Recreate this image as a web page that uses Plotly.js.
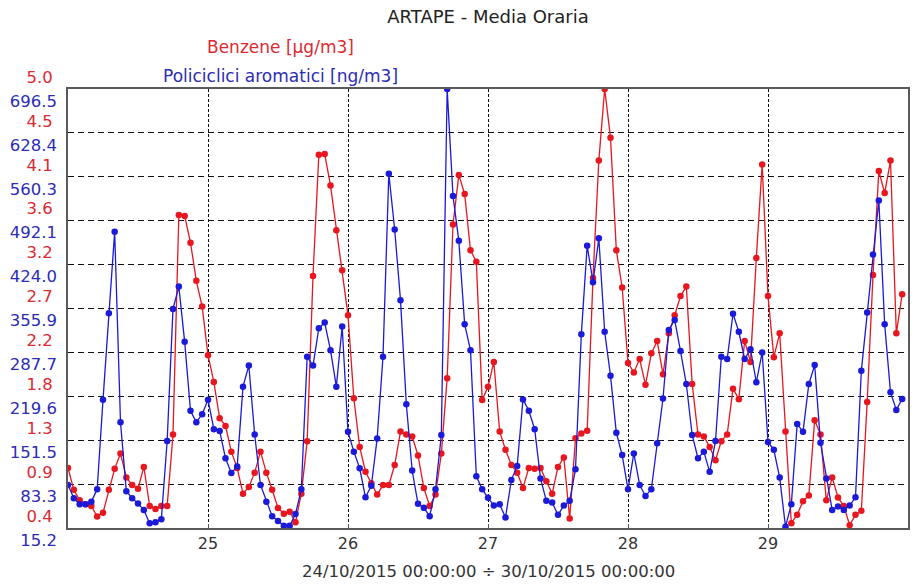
<!DOCTYPE html>
<html>
<head>
<meta charset="utf-8">
<script src="https://cdn.plot.ly/plotly-3.0.1.min.js"></script>
<style>
  html, body { margin: 0; padding: 0; background: #fff; }
  #chart { width: 922px; height: 585px; }
</style>
</head>
<body>
<div id="chart"></div>
<script>
// Hourly averages, 24/10/2015 00:00 -> 29/10/2015 23:00 (one value per hour)
const startDay = [2015, 10, 24];

// Benzene [µg/m3]
const benzene = [
  1.03, 0.80, 0.69, 0.65, 0.63, 0.52, 0.56, 0.80, 1.02, 1.18, 0.93, 0.85, 0.81, 1.04, 0.63, 0.60, 0.63, 0.63, 1.38, 3.68, 3.67, 3.39, 2.99, 2.72,
  2.21, 1.93, 1.55, 1.47, 1.20, 1.03, 0.76, 0.83, 0.98, 1.20, 0.98, 0.80, 0.61, 0.55, 0.57, 0.46, 0.76, 1.31, 3.04, 4.31, 4.32, 3.99, 3.52, 3.10,
  2.63, 1.76, 1.25, 0.99, 0.87, 0.75, 0.85, 0.85, 1.06, 1.41, 1.38, 1.36, 1.16, 0.82, 0.63, 0.75, 1.18, 1.97, 3.58, 4.10, 3.90, 3.31, 3.19, 1.74,
  1.88, 2.14, 1.41, 1.22, 1.06, 0.98, 0.82, 1.03, 1.02, 1.03, 0.89, 0.76, 1.04, 1.14, 0.50, 1.34, 1.39, 1.42, 3.02, 4.25, 5.00, 4.49, 3.31, 2.92,
  2.13, 2.03, 2.17, 1.90, 2.23, 2.36, 2.01, 2.44, 2.63, 2.83, 2.93, 1.91, 1.38, 1.36, 1.25, 1.11, 1.31, 1.38, 1.86, 1.75, 2.36, 2.14, 3.23, 4.21,
  2.83, 2.19, 2.44, 1.41, 0.45, 0.54, 0.68, 0.74, 1.53, 1.38, 0.69, 0.93, 0.72, 0.63, 0.43, 0.54, 0.58, 1.72, 3.05, 4.14, 3.91, 4.25, 2.44, 2.85
];

// Policiclici aromatici [ng/m3]
const policiclici = [
  82.0, 61.5, 52.0, 52.0, 56.1, 75.2, 214.1, 348.4, 475.1, 179.4, 72.4, 61.5, 53.4, 43.1, 22.7, 24.1, 28.8, 150.1, 355.2, 389.9, 304.1, 197.1, 179.4, 191.7,
  214.1, 168.5, 165.8, 123.5, 100.4, 110.6, 234.6, 267.3, 160.3, 82.0, 56.1, 33.6, 26.1, 18.6, 18.6, 37.0, 75.2, 280.9, 267.3, 325.2, 334.1, 291.1, 234.6, 327.9,
  164.4, 133.7, 107.9, 62.9, 80.6, 154.2, 280.9, 565.0, 478.5, 368.8, 207.3, 104.4, 52.7, 46.5, 33.6, 75.2, 159.6, 696.5, 530.3, 460.8, 331.3, 291.1, 95.6, 75.2,
  62.2, 50.0, 52.0, 31.6, 89.5, 111.3, 214.8, 197.1, 168.5, 92.2, 57.4, 54.7, 35.6, 50.0, 57.4, 106.5, 315.7, 453.3, 396.7, 464.9, 319.7, 251.6, 163.0, 128.3,
  75.2, 131.0, 82.0, 64.9, 75.2, 146.7, 216.2, 322.5, 338.1, 289.8, 238.7, 159.6, 123.5, 133.7, 102.4, 150.1, 280.9, 277.5, 347.7, 319.7, 277.5, 292.5, 241.4, 287.7,
  148.7, 136.5, 93.5, 17.2, 52.0, 176.7, 164.4, 238.7, 268.0, 147.4, 92.2, 43.1, 48.6, 43.1, 50.0, 62.9, 259.1, 349.7, 439.6, 523.4, 331.3, 225.7, 198.5, 215.5
];

// Axis labels
const dayTicks = ['25', '26', '27', '28', '29'];
const benzeneTicks = ['0.4', '0.9', '1.3', '1.8', '2.2', '2.7', '3.2', '3.6', '4.1', '4.5', '5.0'];
const policicliciTicks = ['15.2', '83.3', '151.5', '219.6', '287.7', '355.9', '424.0', '492.1', '560.3', '628.4', '696.5'];
const benzeneRange = [0.4, 5.0];
const policicliciRange = [15.2, 696.5];

const RED = '#e8161e';
const BLUE = '#1a1ad8';
const RED_TEXT = '#dc2a32';
const BLUE_TEXT = '#2c2cb4';

function pad(n) { return String(n).padStart(2, '0'); }
function hourStamp(i) {
  const d = new Date(Date.UTC(startDay[0], startDay[1] - 1, startDay[2], i));
  return d.getUTCFullYear() + '-' + pad(d.getUTCMonth() + 1) + '-' + pad(d.getUTCDate()) +
         ' ' + pad(d.getUTCHours()) + ':00';
}
const times = benzene.map((_, i) => hourStamp(i));

// evenly spaced tick positions across an axis range
function spread(range, n) {
  const out = [];
  for (let i = 0; i < n; i++) out.push(range[0] + (range[1] - range[0]) * i / (n - 1));
  return out;
}

const traces = [
  {
    x: times, y: benzene, type: 'scatter', mode: 'lines+markers',
    line: { color: RED, width: 1.3 },
    marker: { color: RED, size: 6.5 },
    xaxis: 'x', yaxis: 'y', name: 'Benzene'
  },
  {
    x: times, y: policiclici, type: 'scatter', mode: 'lines+markers',
    line: { color: BLUE, width: 1.3 },
    marker: { color: BLUE, size: 6.5 },
    xaxis: 'x', yaxis: 'y2', name: 'Policiclici aromatici'
  }
];

const plotTop = 89, plotH = 439;
const layout = {
  width: 922, height: 585,
  margin: { l: 68, r: 14, t: plotTop, b: 585 - plotTop - plotH, pad: 0 },
  paper_bgcolor: '#ffffff', plot_bgcolor: '#ffffff',
  showlegend: false,
  font: { family: 'DejaVu Sans, Arial, sans-serif', size: 16, color: '#333' },
  title: {
    text: 'ARTAPE - Media Oraria',
    font: { size: 18, color: '#222' },
    xref: 'paper', x: 0.5, xanchor: 'center',
    yref: 'container', y: 1 - 17 / 585, yanchor: 'middle'
  },
  xaxis: {
    type: 'date',
    range: ['2015-10-24 00:00', '2015-10-30 00:00'],
    tickmode: 'array',
    tickvals: dayTicks.map(d => '2015-10-' + d + ' 00:00'),
    ticktext: dayTicks,
    tickfont: { size: 16, color: '#333' },
    ticks: 'inside', ticklen: 4, tickcolor: '#555',
    showgrid: true, gridcolor: '#111', gridwidth: 1, griddash: '3px,2px',
    showline: true, mirror: true, linecolor: '#5a5a5a', linewidth: 2,
    zeroline: false, fixedrange: true
  },
  yaxis: {
    range: benzeneRange,
    tickmode: 'array',
    tickvals: spread(benzeneRange, benzeneTicks.length),
    ticktext: benzeneTicks,
    tickfont: { size: 16.5, color: RED_TEXT },
    ticks: '', ticklabelstandoff: 10, ticklabelshift: -12, ticklabeloverflow: 'allow',
    showgrid: true, gridcolor: '#111', gridwidth: 1, griddash: '6px,4px',
    showline: true, mirror: true, linecolor: '#5a5a5a', linewidth: 2,
    zeroline: false, fixedrange: true
  },
  yaxis2: {
    overlaying: 'y', side: 'left', anchor: 'x',
    range: policicliciRange,
    tickmode: 'array',
    tickvals: spread(policicliciRange, policicliciTicks.length),
    ticktext: policicliciTicks,
    tickfont: { size: 16.5, color: BLUE_TEXT },
    ticks: '', ticklabelstandoff: 10, ticklabelshift: 12, ticklabeloverflow: 'allow',
    showgrid: false, showline: false, zeroline: false, fixedrange: true
  },
  annotations: [
    {
      text: 'Benzene [µg/m3]', xref: 'paper', yref: 'paper',
      x: (280 - 68) / 840, y: 1 + (plotTop - 47) / plotH,
      xanchor: 'center', yanchor: 'middle', showarrow: false,
      font: { size: 17, color: RED_TEXT }
    },
    {
      text: 'Policiclici aromatici [ng/m3]', xref: 'paper', yref: 'paper',
      x: (280 - 68) / 840, y: 1 + (plotTop - 76) / plotH,
      xanchor: 'center', yanchor: 'middle', showarrow: false,
      font: { size: 17, color: BLUE_TEXT }
    },
    {
      text: '24/10/2015 00:00:00 ÷ 30/10/2015 00:00:00', xref: 'paper', yref: 'paper',
      x: 0.5, y: -(571 - (plotTop + plotH)) / plotH,
      xanchor: 'center', yanchor: 'middle', showarrow: false,
      font: { size: 16.5, color: '#333' }
    }
  ]
};

Plotly.newPlot('chart', traces, layout, { staticPlot: true, displayModeBar: false });
</script>
</body>
</html>
